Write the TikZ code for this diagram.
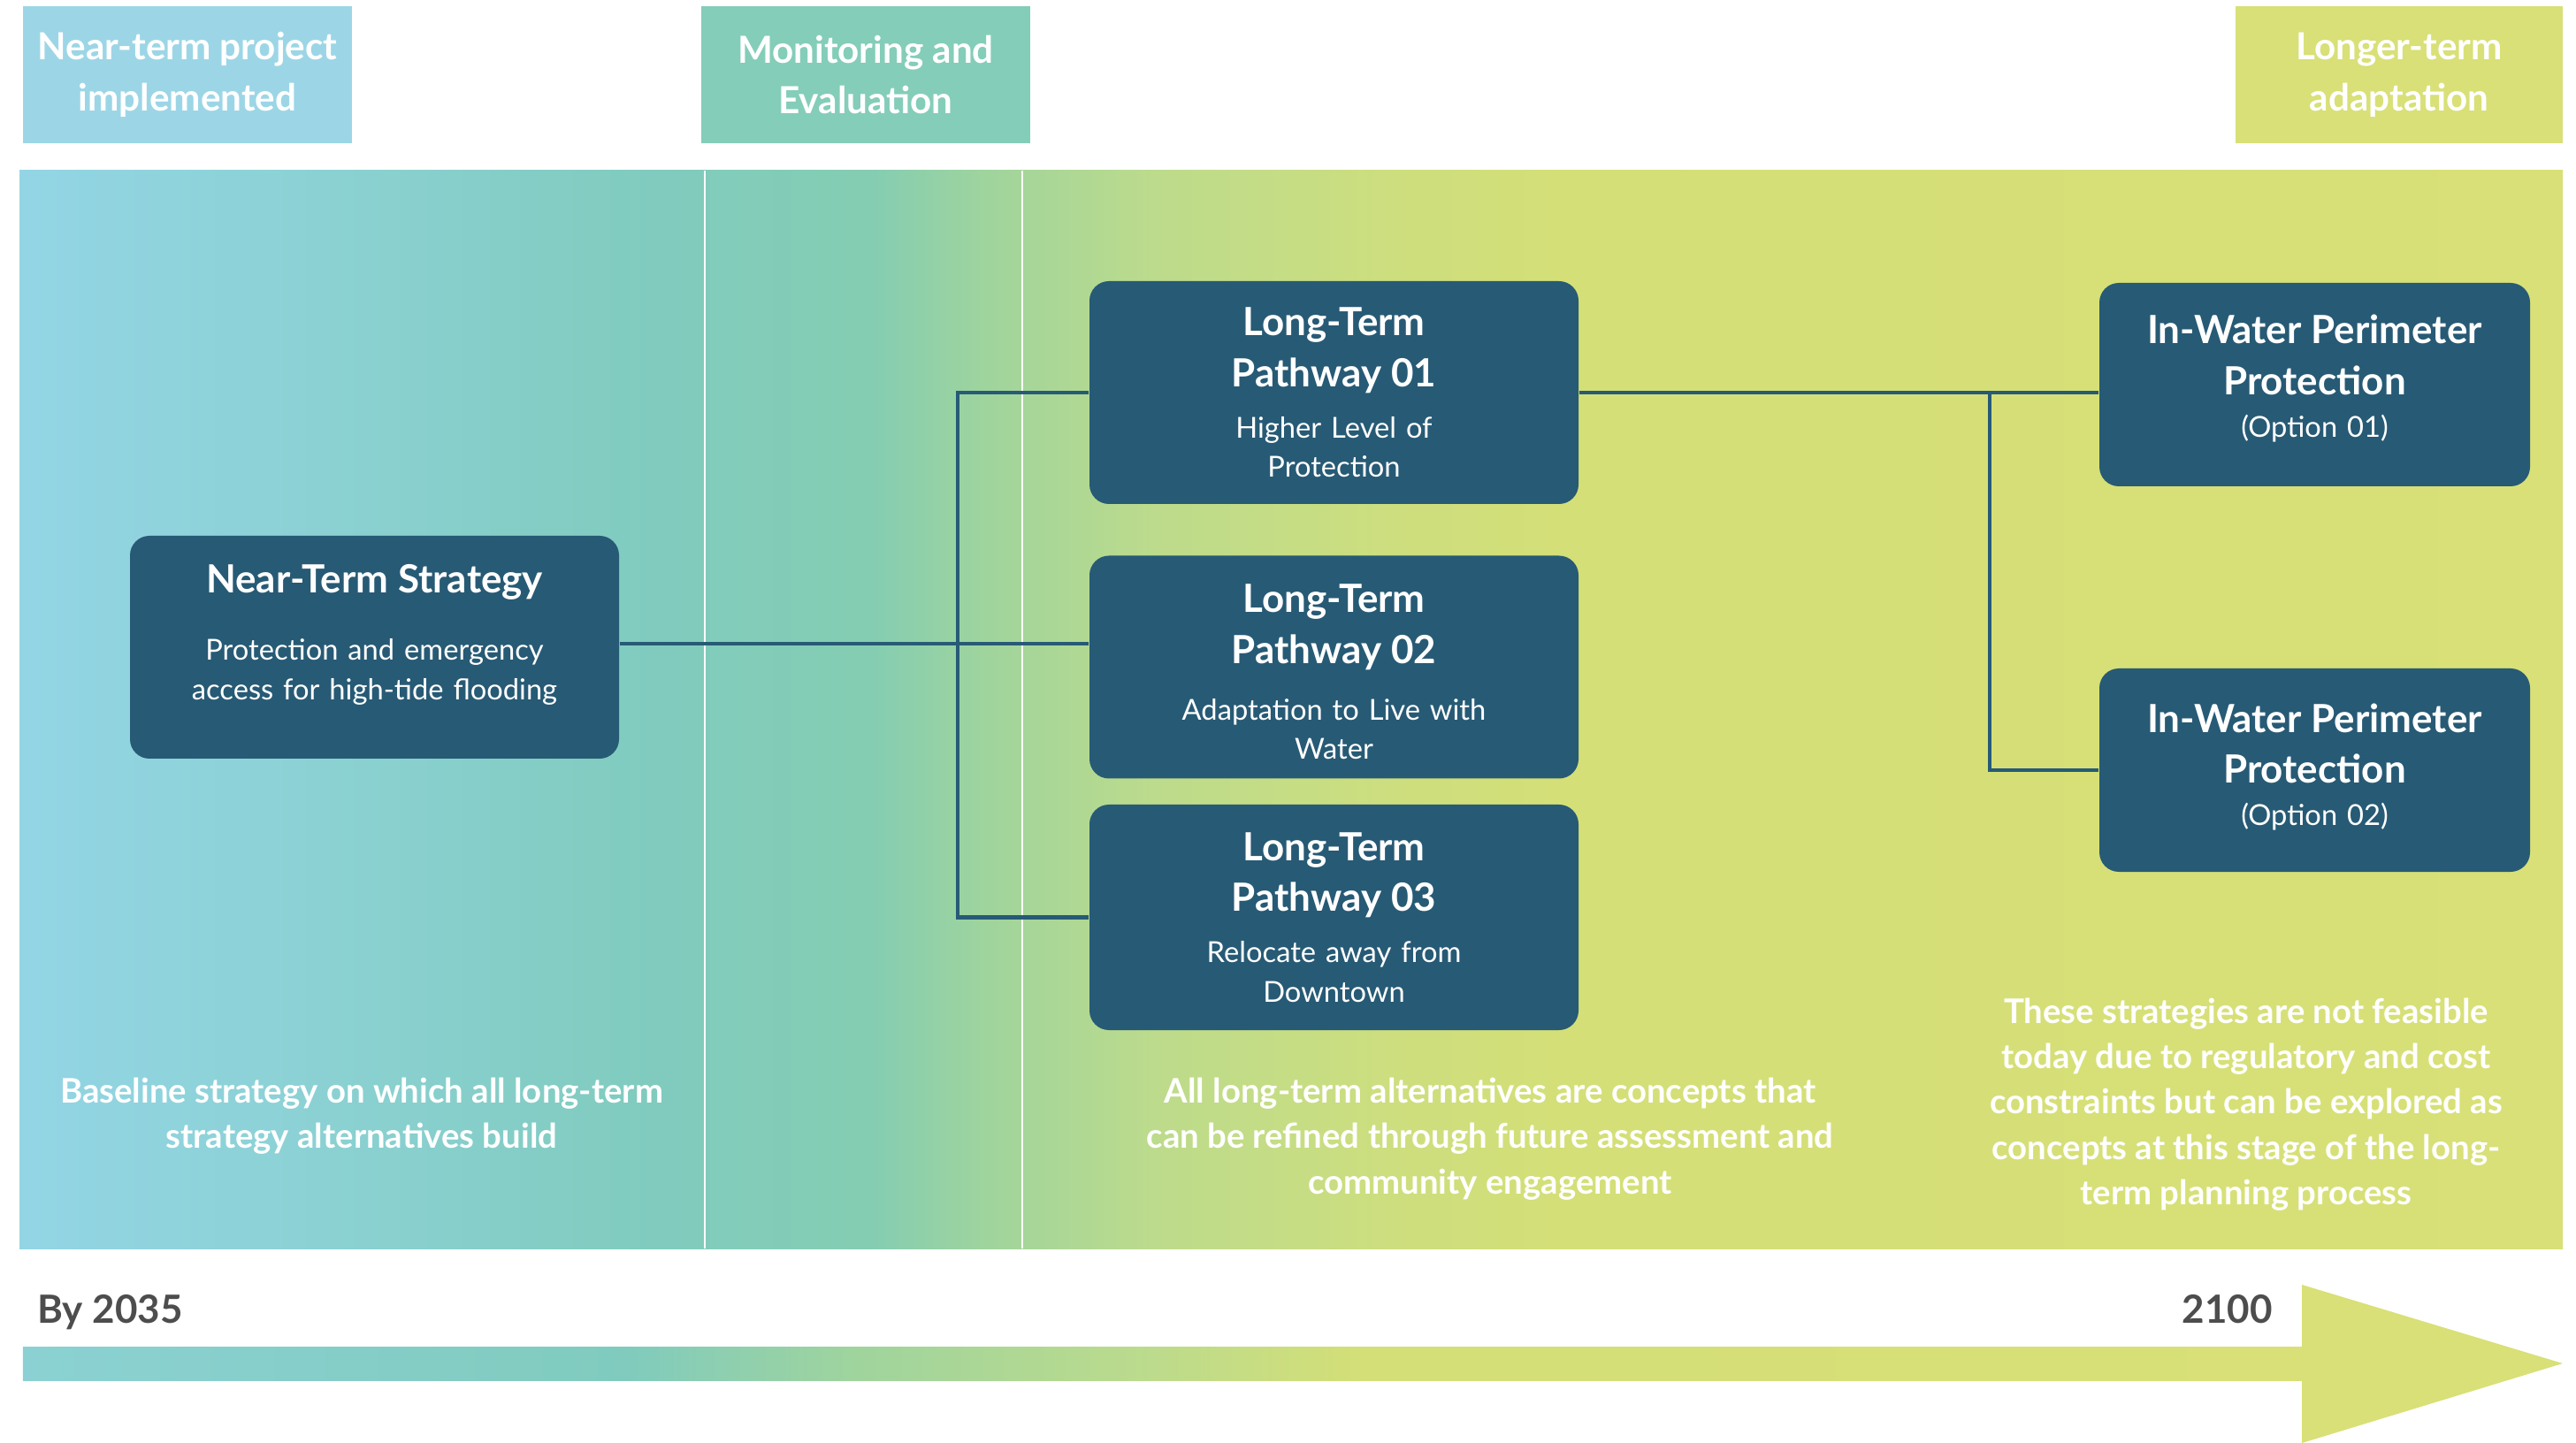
\documentclass[tikz,border=0pt]{standalone}
\usepackage{fontspec}
\setmainfont{Lato}

\definecolor{hdrblue}{HTML}{9CD6E6}
\definecolor{hdrteal}{HTML}{84CDB9}
\definecolor{hdrlime}{HTML}{D8E077}
\definecolor{boxblue}{HTML}{275A75}
\definecolor{yeargray}{HTML}{4D4D4D}
\definecolor{g1}{HTML}{93D5E5}
\definecolor{g2}{HTML}{8BD1D3}
\definecolor{g3}{HTML}{80CBBE}
\definecolor{g4}{HTML}{84CDB2}
\definecolor{g5}{HTML}{9FD49D}
\definecolor{g6}{HTML}{BCDB8C}
\definecolor{g7}{HTML}{CDDE7E}
\definecolor{g8}{HTML}{D4DF77}
\definecolor{g9}{HTML}{D8E077}

\pgfdeclarehorizontalshading{bandgrad}{100bp}{color(0bp)=(g1); color(25bp)=(g1); color(31bp)=(g2); color(37.5bp)=(g3); color(41.75bp)=(g4); color(44bp)=(g5); color(47.25bp)=(g6); color(52bp)=(g7); color(55.25bp)=(g8); color(75bp)=(g9); color(100bp)=(g9)}
\pgfdeclarehorizontalshading{shaftgrad}{100bp}{color(0bp)=(g2); color(25bp)=(g2); color(38.2bp)=(g3); color(43.25bp)=(g5); color(49.75bp)=(g6); color(54.4bp)=(g8); color(75bp)=(g9); color(100bp)=(g9)}

\newcommand\boxttl[1]{{\fontsize{12.5}{16.4}\selectfont\bfseries #1\par}}

\begin{document}
\begin{tikzpicture}[
    hdr/.style={minimum width=3.72cm,minimum height=1.55cm,inner sep=0pt,text=white,align=center,font=\fontsize{12}{16.4}\selectfont\bfseries},
    box/.style={fill=boxblue,rounded corners=0.22cm,minimum width=5.53cm,minimum height=2.52cm,inner sep=0pt,text width=5.3cm,align=center,text=white,font=\fontsize{9.3}{12.7}\selectfont},
    note/.style={text=white,align=center,font=\fontsize{10.9}{14.6}\selectfont\bfseries},
    year/.style={text=yeargray,font=\fontsize{12.5}{15}\selectfont\bfseries},
    link/.style={draw=boxblue,line width=1.2pt}]
\useasboundingbox (0,0) rectangle (29.13,-16.32);

\node[hdr,fill=hdrblue](hnear) at (2.12,-0.845){Near-term project\\implemented};
\node[hdr,fill=hdrteal](hmon) at (9.79,-0.845){Monitoring and\\Evaluation};
\node[hdr,fill=hdrlime,minimum width=3.70cm](hlong) at (27.13,-0.845){Longer-term\\adaptation};

\shade[shading=bandgrad](0.22,-1.93) rectangle (28.98,-14.12);
\draw[white,line width=0.6pt](7.97,-1.93)--(7.97,-14.12);
\draw[white,line width=0.6pt](11.56,-1.93)--(11.56,-14.12);

\node[box](nts) at (4.235,-7.32){\boxttl{Near-Term Strategy}\vspace{9pt}Protection and emergency\\access for high-tide flooding\par\vspace{8pt}};
\node[box](lt1) at (15.085,-4.44){\boxttl{Long-Term\\Pathway 01}\vspace{3.7pt}Higher Level of\\Protection};
\node[box](lt2) at (15.085,-7.545){\boxttl{Long-Term\\Pathway 02}\vspace{5.5pt}Adaptation to Live with\\Water\par\vspace{-3pt}};
\node[box,minimum height=2.55cm](lt3) at (15.085,-10.375){\boxttl{Long-Term\\Pathway 03}\vspace{3.7pt}Relocate away from\\Downtown};
\node[box,minimum width=4.87cm,text width=4.6cm,minimum height=2.30cm](iw1) at (26.175,-4.35){\boxttl{In-Water Perimeter\\Protection}\vspace{1pt}(Option 01)\par\vspace{4pt}};
\node[box,minimum width=4.87cm,text width=4.6cm,minimum height=2.30cm](iw2) at (26.175,-8.71){\boxttl{In-Water Perimeter\\Protection}\vspace{1pt}(Option 02)\par\vspace{2pt}};

\coordinate(busl) at (10.83,-7.28);
\coordinate(busr) at (22.50,-4.44);
\draw[link](nts.east|-busl)--(busl)--(busl-|lt2.west);
\draw[link](lt1.west)-|(busl)|-(lt3.west);
\draw[link](lt1.east)--(lt1.east-|iw1.west);
\draw[link](busr)|-(iw2.west);

\node[note](nbase) at (4.09,-12.62){Baseline strategy on which all long-term\\strategy alternatives build};
\node[note](nall) at (16.85,-12.88){All long-term alternatives are concepts that\\can be refined through future assessment and\\community engagement};
\node[note](nfeas) at (25.40,-12.49){These strategies are not feasible\\today due to regulatory and cost\\constraints but can be explored as\\concepts at this stage of the long-\\term planning process};

\shade[shading=shaftgrad](0.26,-15.23) rectangle (26.04,-15.61);
\fill[hdrlime](26.03,-14.53)--(28.98,-15.42)--(26.03,-16.32)--cycle;
\node[year,anchor=base west](y1) at (0.30,-14.96){By 2035};
\node[year,anchor=base east](y2) at (25.82,-14.96){2100};
\end{tikzpicture}
\end{document}
